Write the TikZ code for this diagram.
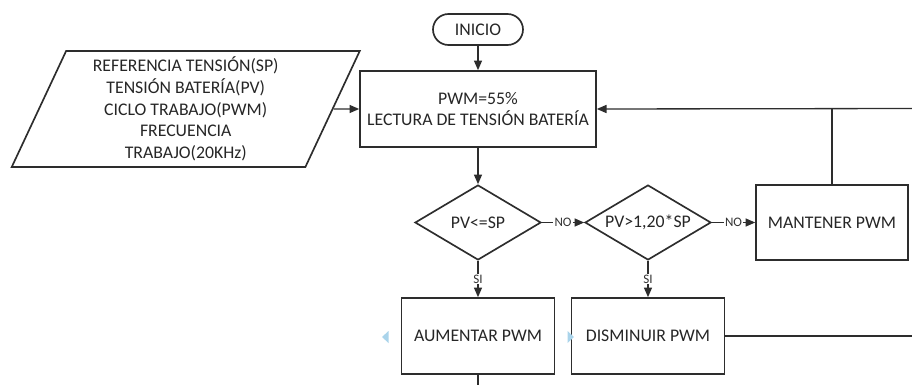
\documentclass[tikz,border=0pt]{standalone}
\usepackage{fontspec}
\setmainfont{Carlito}
\usepackage{tikz}
\usetikzlibrary{positioning, shapes.geometric, arrows.meta}
\definecolor{linegray}{RGB}{45,45,45}
\definecolor{hintblue}{RGB}{170,212,235}

\begin{document}
\begin{tikzpicture}[
    font=\fontsize{10.1}{12.4}\selectfont,
    box/.style={
        rectangle,
        draw=linegray,
        line width=0.95pt,
        align=center,
        inner sep=2pt,
        text=black!85,
    },
    term/.style={box, rounded corners=0.31cm, minimum width=1.8cm, minimum height=0.62cm},
    proc/.style={box, minimum width=3.06cm, minimum height=1.52cm},
    dec/.style={box, diamond, aspect=1.68, inner sep=0pt, minimum width=2.52cm, minimum height=1.5cm},
    io/.style={box, trapezium, trapezium left angle=64, trapezium right angle=116,
        trapezium stretches body, minimum width=6.96cm, minimum height=2.32cm},
    lbl/.style={fill=white, inner sep=0.6pt, text=black!80, font=\fontsize{7.4}{8}\selectfont},
    line/.style={draw=linegray, line width=0.75pt},
    arr/.style={line, -{Triangle[length=5.5pt, width=4.6pt]}}
]
\useasboundingbox (0,0) rectangle (18.24,-7.70);

\node[term] (Ini) at (9.56,-0.59) {INICIO};
\node[box, minimum width=4.72cm, minimum height=1.52cm] (Lect) at (9.56,-2.18) {%
  PWM=55\%\\
  LECTURA DE TENSIÓN BATERÍA%
};
\node[io] (Datos) at (3.715,-2.18) {%
  REFERENCIA TENSIÓN(SP)\\
  TENSIÓN BATERÍA(PV)\\
  CICLO TRABAJO(PWM)\\
  FRECUENCIA\\
  TRABAJO(20KHz)%
};
\node[dec] (D1) at (9.56,-4.45) {PV<=SP};
\node[dec] (D2) at (12.96,-4.45) {PV>1,20*SP};
\node[box, minimum width=3.04cm, minimum height=1.5cm] (Mant) at (16.64,-4.45) {MANTENER PWM};
\node[proc] (Aum) at (9.56,-6.72) {AUMENTAR PWM};
\node[proc] (Dis) at (12.96,-6.72) {DISMINUIR PWM};

\coordinate (Ret) at (18.24,-2.17);
\coordinate (Sal) at (18.24,-6.72);
\coordinate (Baja) at (9.56,-7.70);

\draw[arr] (Ini) -- (Lect);
\draw[arr] (Datos.east) -- (Lect.west);
\draw[arr] (Lect) -- (D1);
\draw[arr] (D1.east) -- node[lbl]{NO} (D2.west);
\draw[arr] (D2.east) -- node[lbl]{NO} (Mant.west);
\draw[arr] (D1.south) -- node[lbl]{SI} (Aum.north);
\draw[arr] (D2.south) -- node[lbl]{SI} (Dis.north);
\draw[arr] (Ret) -- (Lect.east);
\draw[line] (Mant.north) -- (Mant.north |- Ret);
\draw[line] (Dis.east) -- (Sal);
\draw[line] (Aum.south) -- (Baja);

\fill[hintblue] (7.64,-6.74) -- (7.77,-6.62) -- (7.77,-6.86) -- cycle;
\fill[hintblue] (11.48,-6.74) -- (11.35,-6.62) -- (11.35,-6.86) -- cycle;
\end{tikzpicture}
\end{document}
